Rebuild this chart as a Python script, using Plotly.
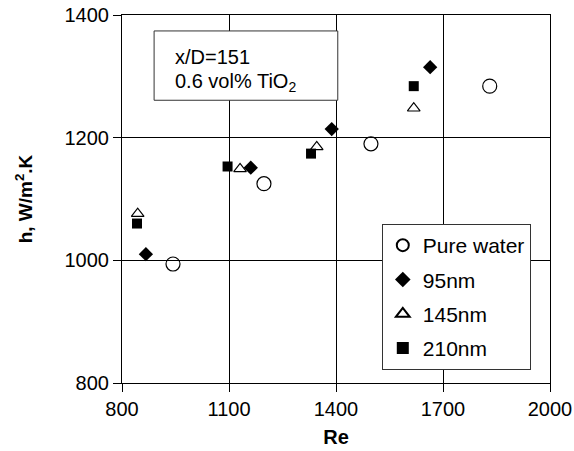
import plotly.graph_objects as go

# Data (Re, h)
pure_re = [943, 1198, 1498, 1831]
pure_h = [994, 1125, 1190, 1284]
nm95_re = [867, 1161, 1388, 1664]
nm95_h = [1010, 1151, 1214, 1315]
nm145_re = [844, 1131, 1346, 1618]
nm145_h = [1076, 1149, 1185, 1248]
nm210_re = [842, 1096, 1330, 1618]
nm210_h = [1060, 1153, 1174, 1284]

x_ticks = [800, 1100, 1400, 1700, 2000]
y_ticks = [800, 1000, 1200, 1400]

FONT = "Liberation Sans, Arial, sans-serif"

fig = go.Figure()
fig.add_trace(go.Scatter(x=pure_re, y=pure_h, mode="markers", name="Pure water", legendgroup="a",
                         marker=dict(symbol="circle-open", size=14, color="black", line=dict(width=1.2, color="black"))))
fig.add_trace(go.Scatter(x=nm95_re, y=nm95_h, mode="markers", name="95nm", legendgroup="b",
                         marker=dict(symbol="diamond", size=11, color="black")))
fig.add_trace(go.Scatter(x=nm145_re, y=nm145_h, mode="markers", name="145nm", legendgroup="c",
                         marker=dict(symbol="triangle-up-open", size=11, color="black", line=dict(width=1.2, color="black"))))
fig.add_trace(go.Scatter(x=nm210_re, y=nm210_h, mode="markers", name="210nm", legendgroup="d",
                         marker=dict(symbol="square", size=10, color="black")))

fig.update_layout(
    width=574, height=451,
    margin=dict(l=122, r=24, t=15, b=68, autoexpand=False),
    paper_bgcolor="white", plot_bgcolor="white",
    font=dict(family=FONT, size=20, color="black"),
    showlegend=True,
    legend=dict(x=0.607, y=0.432, xanchor="left", yanchor="top",
                bordercolor="#333", borderwidth=1, bgcolor="white",
                font=dict(size=21), itemsizing="constant", tracegroupgap=4,
                itemwidth=30),
    xaxis=dict(range=[800, 2000], tickvals=x_ticks, ticks="outside", ticklen=8, tickcolor="black",
               showgrid=True, gridcolor="black", gridwidth=1.2, showline=True, linecolor="black",
               linewidth=1.2, mirror=True, zeroline=False, tickfont=dict(size=20),
               ticklabeloverflow="allow", automargin=False,
               title=dict(text="<b>Re</b>", font=dict(size=20), standoff=10)),
    yaxis=dict(range=[800, 1400], tickvals=y_ticks, ticks="outside", ticklen=8, tickcolor="black",
               showgrid=True, gridcolor="black", gridwidth=1.2, showline=True, linecolor="black",
               linewidth=1.2, mirror=True, zeroline=False, tickfont=dict(size=20),
               ticklabeloverflow="allow", automargin=False,
               title=dict(text="<b>h, W/m<sup>2</sup>.K</b>", font=dict(size=19), standoff=26)),
)

fig.add_shape(type="rect", xref="x", yref="y", x0=890, x1=1405, y0=1261, y1=1374,
              line=dict(color="#333", width=1), fillcolor="white", layer="above")
fig.add_annotation(xref="x", yref="y", x=943, y=1331, xanchor="left", yanchor="middle",
                   text="x/D=151", showarrow=False, font=dict(size=20))
fig.add_annotation(xref="x", yref="y", x=943, y=1290, xanchor="left", yanchor="middle",
                   text="0.6 vol% TiO<sub>2</sub>", showarrow=False, font=dict(size=20))

fig.write_html("out.html")
